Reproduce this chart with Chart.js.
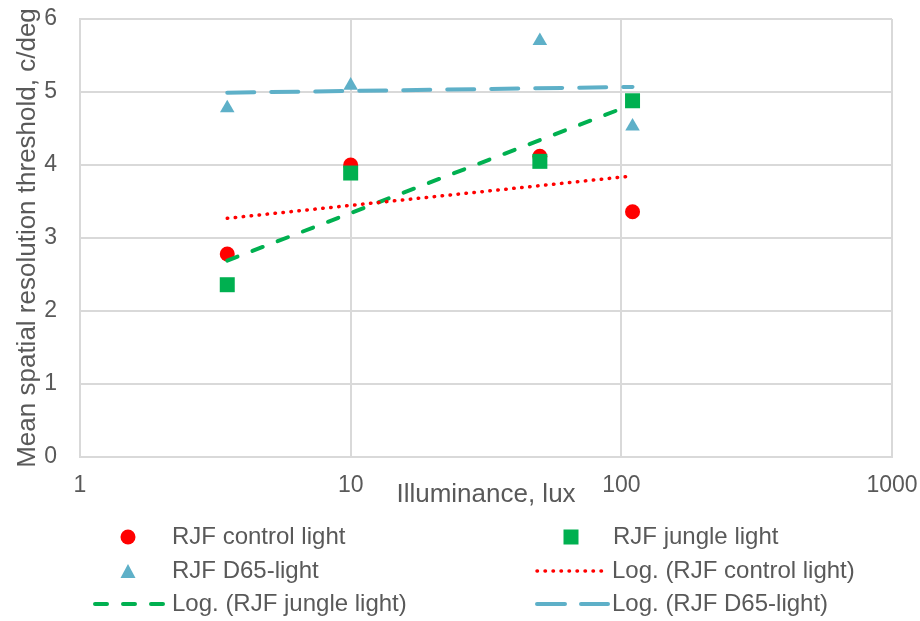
<!DOCTYPE html>
<html>
<head>
<meta charset="utf-8">
<script src="https://cdn.jsdelivr.net/npm/chart.js@4.4.1/dist/chart.umd.min.js"></script>
<style>
  body { margin: 0; background: #fff; }
  #wrap { width: 920px; height: 621px; position: relative; }
</style>
</head>
<body>
<div id="wrap"><canvas id="myChart1"></canvas></div>
<script>
// illuminance levels (lux) and measured thresholds
var illuminance = [3.5, 10, 50, 110];
var controlLight = [2.78, 4.0, 4.12, 3.36];
var jungleLight = [2.36, 3.89, 4.05, 4.88];
var d65Light = [4.78, 5.09, 5.70, 4.53];

// Excel log trendlines, end points
var trendX = [3.5, 110];
var controlTrend = [3.27, 3.85];
var jungleTrend = [2.69, 4.83];
var d65Trend = [4.99, 5.07];

var xTicks = [1, 10, 100, 1000];
var yTicks = [0, 1, 2, 3, 4, 5, 6];

var FONT = '"Liberation Sans", Arial, sans-serif';
var TEXT = '#595959';
var GRID = '#d9d9d9';

function pts(xs, ys) {
    return xs.map(function (x, i) { return { x: x, y: ys[i] }; });
}

var RED = '#ff0000', GREEN = '#00b050', BLUE = '#5eb0c8';

// legend is drawn by hand to get Excel's two-column layout
var legendPlugin = {
    id: 'excelLegend',
    afterDraw: function (chart) {
        var ctx = chart.ctx;
        ctx.save();
        ctx.font = '24px ' + FONT;
        ctx.fillStyle = TEXT;
        ctx.textBaseline = 'middle';
        ctx.textAlign = 'left';

        function text(t, x, y) { ctx.fillText(t, x, y); }
        function line(x1, x2, y, color, w, dash, cap) {
            ctx.save();
            ctx.strokeStyle = color;
            ctx.lineWidth = w;
            ctx.lineCap = cap;
            ctx.setLineDash(dash);
            ctx.beginPath();
            ctx.moveTo(x1, y);
            ctx.lineTo(x2, y);
            ctx.stroke();
            ctx.restore();
        }

        // row 1
        ctx.fillStyle = RED;
        ctx.beginPath(); ctx.arc(128, 537, 7.5, 0, Math.PI * 2); ctx.fill();
        ctx.fillStyle = GREEN;
        ctx.fillRect(571 - 7.5, 537 - 7.5, 15, 15);
        ctx.fillStyle = TEXT;
        text('RJF control light', 172, 537);
        text('RJF jungle light', 613, 537);

        // row 2
        ctx.fillStyle = BLUE;
        ctx.beginPath();
        ctx.moveTo(128, 564); ctx.lineTo(135.5, 578); ctx.lineTo(120.5, 578);
        ctx.closePath(); ctx.fill();
        line(537, 606, 571, RED, 3.5, [0.5, 7.5], 'round');
        ctx.fillStyle = TEXT;
        text('RJF D65-light', 172, 571);
        text('Log. (RJF control light)', 612, 571);

        // row 3
        line(95, 166, 604, GREEN, 4, [12, 16], 'round');
        line(537, 608, 604, BLUE, 4, [28, 16], 'round');
        ctx.fillStyle = TEXT;
        text('Log. (RJF jungle light)', 172, 604);
        text('Log. (RJF D65-light)', 612, 604);

        ctx.restore();
    }
};

var ctx1 = document.getElementById('myChart1').getContext('2d');

var myChart1 = new Chart(ctx1, {
    type: 'scatter',
    data: {
        datasets: [{
            label: 'Log. (RJF control light)',
            data: pts(trendX, controlTrend),
            showLine: true,
            pointRadius: 0,
            borderColor: RED,
            borderWidth: 3.5,
            borderDash: [0.5, 7.5],
            borderCapStyle: 'round',
            order: 0
        },
        {
            label: 'Log. (RJF jungle light)',
            data: pts(trendX, jungleTrend),
            showLine: true,
            pointRadius: 0,
            borderColor: GREEN,
            borderWidth: 4,
            borderDash: [11, 16],
            borderCapStyle: 'round',
            order: 0
        },
        {
            label: 'Log. (RJF D65-light)',
            data: pts(trendX, d65Trend),
            showLine: true,
            pointRadius: 0,
            borderColor: BLUE,
            borderWidth: 4,
            borderDash: [27, 17],
            borderCapStyle: 'round',
            order: 0
        },
        {
            label: 'RJF jungle light',
            data: pts(illuminance, jungleLight),
            pointStyle: 'rect',
            pointRadius: 10.6,
            backgroundColor: GREEN,
            borderColor: GREEN,
            borderWidth: 0,
            order: 1
        },
        {
            label: 'RJF D65-light',
            data: pts(illuminance, d65Light),
            pointStyle: 'triangle',
            pointRadius: 8.4,
            backgroundColor: BLUE,
            borderColor: BLUE,
            borderWidth: 0,
            order: 1
        },
        {
            label: 'RJF control light',
            data: pts(illuminance, controlLight),
            pointStyle: 'circle',
            pointRadius: 7.5,
            backgroundColor: RED,
            borderColor: RED,
            borderWidth: 0,
            order: 2
        }]
    },
    options: {
        responsive: true,
        maintainAspectRatio: false,
        animation: false,
        layout: {
            padding: { top: 19, right: 28, left: 0, bottom: 111 }
        },
        plugins: {
            legend: { display: false },
            tooltip: { enabled: false }
        },
        scales: {
            x: {
                type: 'logarithmic',
                position: 'bottom',
                min: 1,
                max: 1000,
                afterBuildTicks: function (s) {
                    s.ticks = xTicks.map(function (v) { return { value: v }; });
                },
                afterFit: function (s) {
                    s.height = 53;
                    s.paddingLeft = 0;
                    s.paddingRight = 0;
                },
                grid: { color: GRID, lineWidth: 2, drawTicks: false },
                border: { color: GRID, width: 2 },
                ticks: {
                    color: TEXT,
                    padding: 15,
                    maxRotation: 0,
                    autoSkip: false,
                    font: { family: FONT, size: 23 },
                    callback: function (v) { return String(v); }
                },
                title: {
                    display: true,
                    text: 'Illuminance, lux',
                    color: TEXT,
                    padding: { top: 0, bottom: 0 },
                    font: { family: FONT, size: 26 }
                }
            },
            y: {
                min: 0,
                max: 6,
                afterBuildTicks: function (s) {
                    s.ticks = yTicks.map(function (v) { return { value: v }; });
                },
                afterFit: function (s) {
                    s.width = 80;
                    s.paddingTop = 0;
                    s.paddingBottom = 0;
                },
                grid: { color: GRID, lineWidth: 2, drawTicks: false },
                border: { color: GRID, width: 2 },
                ticks: {
                    color: TEXT,
                    padding: 23,
                    font: { family: FONT, size: 23 }
                },
                title: {
                    display: true,
                    text: 'Mean spatial resolution threshold, c/deg',
                    color: TEXT,
                    padding: { top: 12, bottom: 0 },
                    font: { family: FONT, size: 26 }
                }
            }
        }
    },
    plugins: [legendPlugin]
});
</script>
</body>
</html>
